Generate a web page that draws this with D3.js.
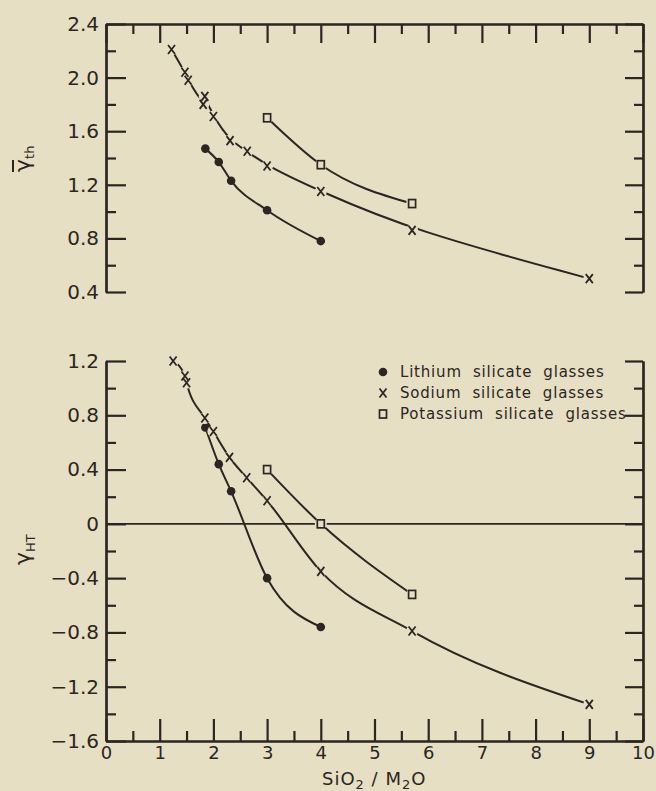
<!DOCTYPE html>
<html>
<head>
<meta charset="utf-8">
<script src="https://cdn.jsdelivr.net/npm/d3@7"></script>
<style>
  body { margin: 0; background: #e7dfc3; }
  svg { display: block; }
  text { font-family: "DejaVu Sans", sans-serif; fill: #2b2622; }
</style>
</head>
<body>
<div id="chart"></div>
<script>
// data (x = SiO2/M2O)
var liX = [1.85, 2.1, 2.33, 3.0, 4.0];
var liTh = [1.47, 1.37, 1.23, 1.01, 0.78];
var liHT = [0.71, 0.44, 0.24, -0.40, -0.76];

var naXTh = [1.22, 1.47, 1.53, 1.81, 1.84, 2.0, 2.31, 2.63, 3.0, 4.0, 5.7, 9.0];
var naTh = [2.21, 2.04, 1.98, 1.80, 1.86, 1.71, 1.53, 1.45, 1.34, 1.15, 0.86, 0.50];
var naXHT = [1.25, 1.47, 1.5, 1.84, 2.0, 2.3, 2.62, 3.0, 4.0, 5.7, 9.0];
var naHT = [1.20, 1.09, 1.04, 0.78, 0.68, 0.49, 0.34, 0.17, -0.35, -0.79, -1.33];

var kX = [3.0, 4.0, 5.7];
var kTh = [1.70, 1.35, 1.06];
var kHT = [0.40, 0.0, -0.52];

var topTicks = [0.4, 0.8, 1.2, 1.6, 2.0, 2.4];
var topMinor = [0.6, 1.0, 1.4, 1.8, 2.2];
var botTicks = [-1.6, -1.2, -0.8, -0.4, 0, 0.4, 0.8, 1.2];
var botMinor = [-1.4, -1.0, -0.6, -0.2, 0.2, 0.6, 1.0];
var xTicks = [0, 1, 2, 3, 4, 5, 6, 7, 8, 9, 10];
var xMinor = [0.5, 1.5, 2.5, 3.5, 4.5, 5.5, 6.5, 7.5, 8.5, 9.5];

var legendLabels = ["Lithium  silicate  glasses", "Sodium  silicate  glasses", "Potassium  silicate  glasses"];

var ink = "#2b2622";
var paper = "#e7dfc3";

var svg = d3.select("#chart").append("svg")
  .attr("width", 656)
  .attr("height", 791);

var x = d3.scaleLinear().domain([0, 10]).range([106, 643]);
var yTop = d3.scaleLinear().domain([0.4, 2.4]).range([292, 24]);
var yBot = d3.scaleLinear().domain([-1.6, 1.2]).range([741, 361]);

function fmt(d) { return d == 0 ? "0" : d3.format(".1f")(d); }

function styleAxis(g) {
  g.selectAll("path, line").attr("stroke", ink).attr("stroke-width", 2.2);
  g.selectAll("text").attr("fill", ink).style("font-size", "20px");
}

// ---- top panel axes
svg.append("g").attr("transform", "translate(106,0)")
  .call(d3.axisLeft(yTop).tickValues(topTicks).tickFormat(fmt)
    .tickSizeInner(-20).tickSizeOuter(0).tickPadding(7))
  .call(styleAxis);
svg.append("g").attr("transform", "translate(106,0)")
  .call(d3.axisLeft(yTop).tickValues(topMinor).tickFormat("")
    .tickSizeInner(-10).tickSizeOuter(0))
  .call(styleAxis);
svg.append("g").attr("transform", "translate(643,0)")
  .call(d3.axisRight(yTop).tickValues(topTicks).tickFormat("")
    .tickSizeInner(-18).tickSizeOuter(0))
  .call(styleAxis);
svg.append("g").attr("transform", "translate(643,0)")
  .call(d3.axisRight(yTop).tickValues(topMinor).tickFormat("")
    .tickSizeInner(-9).tickSizeOuter(0))
  .call(styleAxis);
svg.append("g").attr("transform", "translate(0,24)")
  .call(d3.axisTop(x).tickValues(xTicks).tickFormat("")
    .tickSizeInner(-19).tickSizeOuter(0))
  .call(styleAxis);
svg.append("g").attr("transform", "translate(0,24)")
  .call(d3.axisTop(x).tickValues(xMinor).tickFormat("")
    .tickSizeInner(-10).tickSizeOuter(0))
  .call(styleAxis);

// ---- bottom panel axes
svg.append("g").attr("transform", "translate(106,0)")
  .call(d3.axisLeft(yBot).tickValues(botTicks).tickFormat(fmt)
    .tickSizeInner(-20).tickSizeOuter(0).tickPadding(7))
  .call(styleAxis);
svg.append("g").attr("transform", "translate(106,0)")
  .call(d3.axisLeft(yBot).tickValues(botMinor).tickFormat("")
    .tickSizeInner(-10).tickSizeOuter(0))
  .call(styleAxis);
svg.append("g").attr("transform", "translate(643,0)")
  .call(d3.axisRight(yBot).tickValues(botTicks).tickFormat("")
    .tickSizeInner(-18).tickSizeOuter(0))
  .call(styleAxis);
svg.append("g").attr("transform", "translate(643,0)")
  .call(d3.axisRight(yBot).tickValues(botMinor).tickFormat("")
    .tickSizeInner(-9).tickSizeOuter(0))
  .call(styleAxis);
var xAxisG = svg.append("g").attr("transform", "translate(0,741)")
  .call(d3.axisBottom(x).tickValues(xTicks).tickFormat(d3.format("d"))
    .tickSizeInner(-22).tickSizeOuter(0).tickPadding(5))
  .call(styleAxis);
xAxisG.selectAll("text").style("font-size", "18px");
svg.append("g").attr("transform", "translate(0,741)")
  .call(d3.axisBottom(x).tickValues(xMinor).tickFormat("")
    .tickSizeInner(-10).tickSizeOuter(0))
  .call(styleAxis);

// zero line
svg.append("line")
  .attr("x1", x(0)).attr("x2", x(10))
  .attr("y1", yBot(0)).attr("y2", yBot(0))
  .attr("stroke", ink).attr("stroke-width", 1.6);

// ---- curves and markers
function zip(xs, ys) { return xs.map(function(v, i) { return [v, ys[i]]; }); }

function drawSeries(xs, ys, y, kind, curve) {
  var pts = zip(xs, ys);
  var line = d3.line()
    .x(function(d) { return x(d[0]); })
    .y(function(d) { return y(d[1]); })
    .curve(curve);
  svg.append("path").datum(pts)
    .attr("d", line)
    .attr("fill", "none")
    .attr("stroke", ink)
    .attr("stroke-width", 2);

  if (kind != "dot") {
    // gap in the line around the open markers
    svg.append("g").selectAll("circle").data(pts).enter().append("circle")
      .attr("cx", function(d) { return x(d[0]); })
      .attr("cy", function(d) { return y(d[1]); })
      .attr("r", 6)
      .attr("fill", paper);
  }
  drawMarkers(pts.map(function(d) { return [x(d[0]), y(d[1])]; }), kind);
}

function drawMarkers(pos, kind) {
  var g = svg.append("g");
  if (kind == "dot") {
    g.selectAll("circle").data(pos).enter().append("circle")
      .attr("cx", function(d) { return d[0]; })
      .attr("cy", function(d) { return d[1]; })
      .attr("r", 4.3)
      .attr("fill", ink);
  } else if (kind == "cross") {
    g.selectAll("path").data(pos).enter().append("path")
      .attr("d", function(d) {
        return "M" + (d[0] - 3.5) + "," + (d[1] - 4.5) + "L" + (d[0] + 3.5) + "," + (d[1] + 4.5) +
               "M" + (d[0] + 3.5) + "," + (d[1] - 4.5) + "L" + (d[0] - 3.5) + "," + (d[1] + 4.5);
      })
      .attr("stroke", ink).attr("stroke-width", 1.8).attr("fill", "none");
  } else {
    g.selectAll("rect").data(pos).enter().append("rect")
      .attr("x", function(d) { return d[0] - 3.5; })
      .attr("y", function(d) { return d[1] - 4; })
      .attr("width", 7).attr("height", 8)
      .attr("stroke", ink).attr("stroke-width", 1.7).attr("fill", "none");
  }
}

drawSeries(liX, liTh, yTop, "dot", d3.curveMonotoneX);
drawSeries(naXTh, naTh, yTop, "cross", d3.curveBasis);
drawSeries(kX, kTh, yTop, "square", d3.curveMonotoneX);

drawSeries(liX, liHT, yBot, "dot", d3.curveMonotoneX);
drawSeries(naXHT, naHT, yBot, "cross", d3.curveMonotoneX);
drawSeries(kX, kHT, yBot, "square", d3.curveMonotoneX);

// ---- legend
var kinds = ["dot", "cross", "square"];
legendLabels.forEach(function(t, i) {
  var cy = 372 + i * 21;
  drawMarkers([[383, cy]], kinds[i]);
  svg.append("text")
    .attr("x", 400).attr("y", cy + 5)
    .style("font-size", "15px")
    .style("letter-spacing", "0.8px")
    .style("white-space", "pre")
    .text(t);
});

// ---- axis titles
var gTop = svg.append("g").attr("transform", "translate(28,160) rotate(-90)");
gTop.append("text").attr("x", -12).attr("y", 2)
  .style("font-size", "22px")
  .text("γ")
  .append("tspan").attr("dy", 4).style("font-size", "13px").text("th");
gTop.append("line")
  .attr("x1", -12).attr("x2", 0).attr("y1", -15).attr("y2", -15)
  .attr("stroke", ink).attr("stroke-width", 2);

var gBot = svg.append("g").attr("transform", "translate(28,545) rotate(-90)");
gBot.append("text").attr("x", -20).attr("y", 2)
  .style("font-size", "22px")
  .text("γ")
  .append("tspan").attr("dy", 5).style("font-size", "13px").text("HT");

var xt = svg.append("text").attr("x", 322).attr("y", 785)
  .style("font-size", "18px")
  .style("letter-spacing", "1px")
  .style("white-space", "pre");
xt.append("tspan").text("SiO");
xt.append("tspan").attr("dy", 4).style("font-size", "13px").text("2");
xt.append("tspan").attr("dy", -4).text(" / M");
xt.append("tspan").attr("dy", 4).style("font-size", "13px").text("2");
xt.append("tspan").attr("dy", -4).text("O");
</script>
</body>
</html>
